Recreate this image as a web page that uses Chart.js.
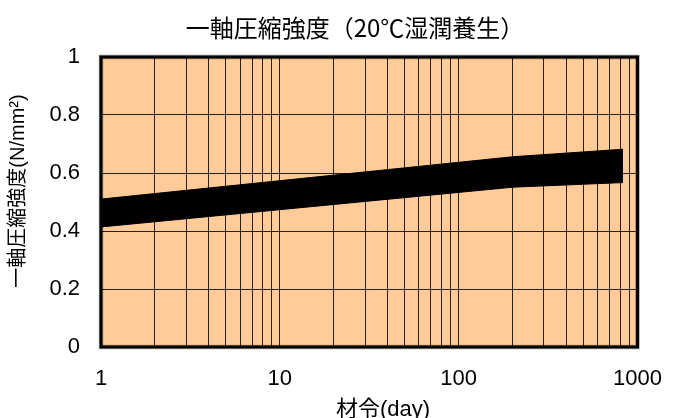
<!DOCTYPE html>
<html lang="ja">
<head>
<meta charset="utf-8">
<title>一軸圧縮強度（20℃湿潤養生）</title>
<script src="https://cdn.jsdelivr.net/npm/chart.js@4.4.1/dist/chart.umd.min.js"></script>
<style>
  html, body { margin: 0; padding: 0; background: #ffffff; }
  #wrap { width: 682px; height: 418px; position: relative; }
</style>
</head>
<body>
<div id="wrap"><canvas id="c" width="682" height="418"></canvas></div>
<script>
// Curing age (days) and the strength range (N/mm²) bounded by an upper and lower line
const ageDays = [1, 200, 830];
const upperStrength = [0.51, 0.656, 0.682];
const lowerStrength = [0.414, 0.551, 0.567];

// Axis labels
const xMajorTicks = [1, 10, 100, 1000];
const yTicks = [0, 0.2, 0.4, 0.6, 0.8, 1];

const chartTitle = '一軸圧縮強度（20℃湿潤養生）';
const xTitle = '材令(day)';
const yTitle = '一軸圧縮強度(N/mm²)';

// every 1..9 x 10^k position for the log grid
const xGridValues = [];
for (let d = 1; d <= 100; d *= 10) {
  for (let m = 1; m <= 9; m++) xGridValues.push(m * d);
}
xGridValues.push(1000);

const toPoints = (xs, ys) => xs.map((x, i) => ({ x, y: ys[i] }));

const plotDecor = {
  id: 'plotDecor',
  beforeDraw(chart) {
    const { ctx, chartArea: a } = chart;
    ctx.save();
    ctx.fillStyle = '#FFCC99';
    ctx.fillRect(a.left, a.top, a.right - a.left, a.bottom - a.top);
    ctx.restore();
  },
  afterDraw(chart) {
    const { ctx, chartArea: a } = chart;
    ctx.save();
    // frame around the plot
    ctx.strokeStyle = 'rgba(0,0,0,0.35)';
    ctx.lineWidth = 4.5;
    ctx.strokeRect(a.left, a.top, a.right - a.left, a.bottom - a.top);
    ctx.strokeStyle = '#000';
    ctx.lineWidth = 3;
    ctx.strokeRect(a.left, a.top, a.right - a.left, a.bottom - a.top);

    ctx.fillStyle = '#000';
    ctx.textAlign = 'center';
    ctx.textBaseline = 'middle';
    // chart title
    ctx.font = '24px "Noto Sans CJK JP"';
    ctx.fillText(chartTitle, 355, 28);
    // x axis title
    ctx.font = '22px "Liberation Sans", "Noto Sans CJK JP"';
    ctx.fillText(xTitle, 383, 410);
    // y axis title
    ctx.translate(18, 191);
    ctx.rotate(-Math.PI / 2);
    ctx.font = '20px "Liberation Sans", "Noto Sans CJK JP"';
    ctx.fillText(yTitle, 0, 0);
    ctx.restore();
  }
};

new Chart(document.getElementById('c'), {
  type: 'line',
  data: {
    datasets: [
      {
        label: 'upper',
        data: toPoints(ageDays, upperStrength),
        borderColor: '#000',
        borderWidth: 1,
        backgroundColor: '#000',
        pointRadius: 0,
        tension: 0,
        fill: '+1'
      },
      {
        label: 'lower',
        data: toPoints(ageDays, lowerStrength),
        borderColor: '#000',
        borderWidth: 1,
        pointRadius: 0,
        tension: 0,
        fill: false
      }
    ]
  },
  options: {
    responsive: false,
    animation: false,
    layout: { padding: { top: 57, left: 0, right: 44.5, bottom: 0 } },
    plugins: {
      legend: { display: false },
      tooltip: { enabled: false },
      title: { display: false }
    },
    scales: {
      x: {
        type: 'logarithmic',
        min: 1,
        max: 1000,
        afterBuildTicks(scale) {
          scale.ticks = xGridValues.map(v => ({ value: v }));
        },
        afterFit(scale) { scale.height = 71; },
        ticks: {
          autoSkip: false,
          maxRotation: 0,
          padding: 19,
          color: '#000',
          font: { family: '"Liberation Sans"', size: 22 },
          callback(value) {
            return xMajorTicks.includes(value) ? String(value) : '';
          }
        },
        grid: { color: 'rgba(0,0,0,0.85)', lineWidth: 1, drawTicks: false },
        border: { display: false }
      },
      y: {
        min: 0,
        max: 1,
        afterBuildTicks(scale) {
          scale.ticks = yTicks.map(v => ({ value: v }));
        },
        afterFit(scale) { scale.width = 101; },
        ticks: {
          padding: 21,
          color: '#000',
          font: { family: '"Liberation Sans"', size: 22 },
          callback(value) { return String(value); }
        },
        grid: { color: 'rgba(0,0,0,0.85)', lineWidth: 1, drawTicks: false },
        border: { display: false }
      }
    }
  },
  plugins: [plotDecor]
});
</script>
</body>
</html>
